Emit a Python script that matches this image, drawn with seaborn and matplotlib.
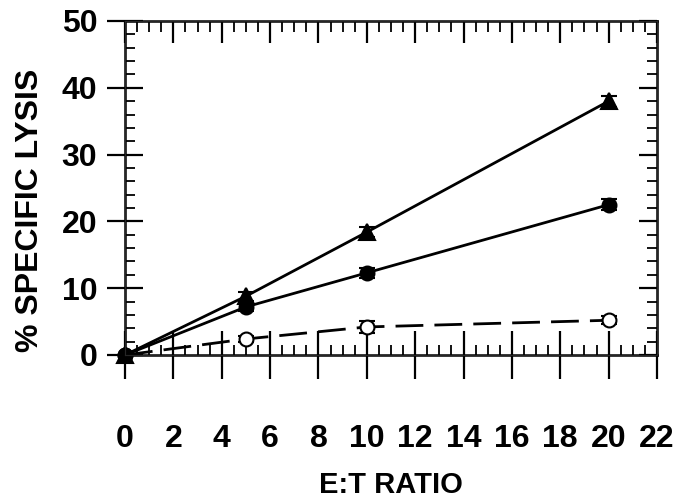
import matplotlib
matplotlib.use("Agg")
import matplotlib.pyplot as plt
import seaborn as sns
import pandas as pd
from matplotlib.ticker import MultipleLocator

sns.set_style("white")
plt.rcParams['font.family'] = ['Liberation Sans', 'DejaVu Sans']
plt.rcParams['font.weight'] = 'bold'
plt.rcParams['text.color'] = 'black'
plt.rcParams['xtick.color'] = 'black'
plt.rcParams['ytick.color'] = 'black'
plt.rcParams['axes.labelcolor'] = 'black'
plt.rcParams['axes.labelweight'] = 'bold'

et_ratio = [0, 5, 10, 20]
lysis_triangle = [0, 8.8, 18.4, 38.0]
err_triangle = [0, 0.7, 0.8, 0.8]
lysis_filled = [0, 7.2, 12.3, 22.5]
err_filled = [0, 0.6, 0.7, 0.8]
lysis_open = [0, 2.4, 4.2, 5.2]
err_open = [0, 0.5, 0.9, 0.6]

x_ticks = list(range(0, 23, 2))
y_ticks = [0, 10, 20, 30, 40, 50]

fig = plt.figure(figsize=(6.81, 5.03), dpi=100)
ax = fig.add_axes([125/681, 148/503, 532/681, 334/503])

series = [
    ("open", lysis_open, err_open, "o", "white", 10, (10, 4)),
    ("triangle", lysis_triangle, err_triangle, "^", "black", 11, None),
    ("filled", lysis_filled, err_filled, "o", "black", 10, None),
]
for name, ys, es, mk, mfc, ms, dash in series:
    df = pd.DataFrame({"x": et_ratio, "y": ys})
    sns.lineplot(data=df, x="x", y="y", ax=ax, color="black", linewidth=2.0,
                 marker=mk, markersize=ms, markerfacecolor=mfc, markeredgecolor="black",
                 markeredgewidth=1.5, zorder=3)
    line = ax.lines[-1]
    line.set_clip_on(False)
    if dash is not None:
        line.set_dashes(dash)
    ax.errorbar(et_ratio, ys, yerr=es, fmt="none", ecolor="black", elinewidth=1.5,
                capsize=6, capthick=1.5, zorder=2)

ax.set_xlim(0, 22)
ax.set_ylim(0, 50)
ax.set_xticks(x_ticks)
ax.set_yticks(y_ticks)
ax.xaxis.set_minor_locator(MultipleLocator(0.5))
ax.yaxis.set_minor_locator(MultipleLocator(2))
ax.tick_params(axis="x", which="major", direction="inout", length=34, width=1.6,
               labelsize=23, pad=33)
ax.tick_params(axis="y", which="major", direction="inout", length=26, width=1.6,
               labelsize=23, pad=7)
ax.tick_params(which="minor", direction="in", length=7, width=1.3)

for s in ax.spines.values():
    s.set_linewidth(1.8)
    s.set_color("black")

# top/right tick marks point inward only
axt = ax.twiny()
axt.set_xlim(0, 22)
axt.set_xticks(x_ticks)
axt.xaxis.set_minor_locator(MultipleLocator(0.5))
axt.tick_params(axis="x", which="major", direction="in", length=16, width=1.6, labeltop=False)
axt.tick_params(axis="x", which="minor", direction="in", length=8, width=1.3)
axr = ax.twinx()
axr.set_ylim(0, 50)
axr.set_yticks(y_ticks)
axr.yaxis.set_minor_locator(MultipleLocator(2))
axr.tick_params(axis="y", which="major", direction="in", length=13, width=1.6, labelright=False)
axr.tick_params(axis="y", which="minor", direction="in", length=7, width=1.3)

ax.set_xlabel("E:T RATIO", fontsize=21)
ax.xaxis.set_label_coords(0.5, -(485 - 355) / 334, transform=ax.transAxes)
ax.xaxis.label.set_va("center")
ax.set_ylabel("% SPECIFIC LYSIS", fontsize=23)
ax.yaxis.set_label_coords(-(125 - 30) / 532, (355 - 210) / 334, transform=ax.transAxes)
ax.yaxis.label.set_va("center")

fig.savefig("out.png", dpi=100)
